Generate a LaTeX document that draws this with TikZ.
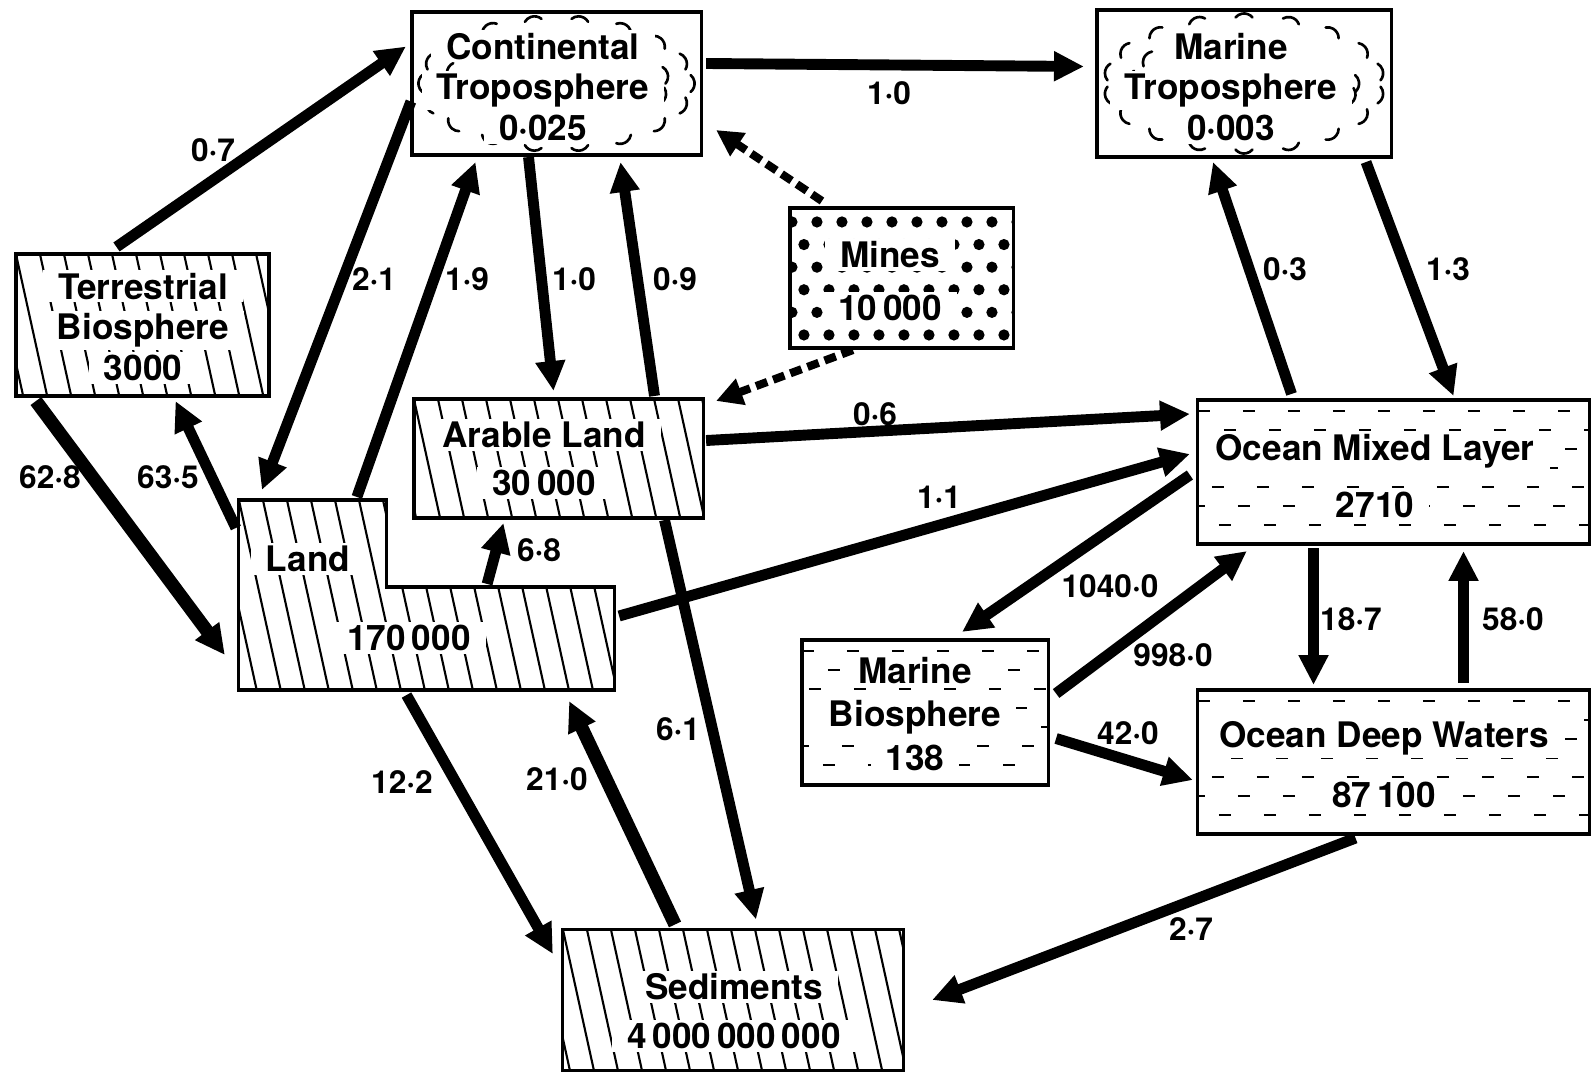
\documentclass[tikz,border=0pt]{standalone}
\usepackage{fontspec}
\setmainfont{TeX Gyre Heros}
\usepackage{tikz}
\usetikzlibrary{arrows.meta}

\tikzset{
  area/.style={outer sep=0pt,inner sep=0pt},
  box/.style={area,draw,line width=0.9pt},
  boxtext/.style={font=\bfseries\fontsize{10}{11.6}\selectfont,align=center,inner sep=0pt},
  rate/.style={font=\bfseries\fontsize{9}{10}\selectfont,inner sep=1pt},
  flow/.style={line width=3.1pt,-{Triangle[length=8.5pt,width=8pt]}},
  wide/.style={line width=3.8pt},
  mineflow/.style={line width=2.3pt,dash pattern=on 3.4pt off 1.8pt,-{Triangle[length=7.5pt,width=7.5pt]}},
  hatch/.style={line width=0.6pt},
  seadash/.style={line width=0.8pt,dash pattern=on 3.4pt off 9.4pt},
  cloud/.style={line width=0.75pt,line cap=round},
}

% white ground behind one line of text
\newcommand\wb[1]{{\setlength\fboxsep{0.8pt}\colorbox{white}{\hspace{3.5pt}#1\hspace{3.5pt}}}}
% slanted hatching, clipped by the caller
\newcommand\hatchlines[2]{%
  \foreach \i in {-2,...,#2}
    \draw[hatch] ([xshift=\i*0.24cm]#1.north west) -- ++(44,200);}
% rows of short dashes (water)
\newcommand\seadashes[2]{%
  \begin{scope}
    \clip (#1.south west) rectangle (#1.north east);
    \foreach \r in {0,...,#2}
      \draw[seadash] ([shift={({-mod(\r*19,45)},{11+19*\r})}]#1.north west) -- ++(440,0);
  \end{scope}}
% dots (ore)
\newcommand\minedots[1]{%
  \begin{scope}
    \clip (#1.south west) rectangle (#1.north east);
    \foreach \r in {0,...,5}
      \foreach \c in {0,...,9}
        \fill ([shift={({\c*25+mod(\r,2)*12+2},{14+\r*22.6})}]#1.north west) circle[radius=1.6pt];
  \end{scope}}
% ring of little arcs (air)
\newcommand\cloudarcs[4]{%
  \foreach \a in {#4}
    \draw[cloud] ([shift={(\a:#2 and #3)}]#1.center) ++(\a-50:0.11cm)
      arc[start angle=\a-50,end angle=\a+50,radius=0.11cm];}

\begin{document}
\begin{tikzpicture}[x=0.01cm,y=-0.01cm]
\useasboundingbox (0,0) rectangle (1592,1073);

% reservoirs
\node[box,minimum width=2.89cm,minimum height=1.43cm] (ct) at (556.5,83.5) {};
\node[box,minimum width=2.94cm,minimum height=1.47cm] (mt) at (1244,83.5) {};
\node[box,minimum width=2.23cm,minimum height=1.40cm] (mi) at (901.5,278) {};
\node[box,minimum width=2.53cm,minimum height=1.42cm] (tb) at (142.5,325) {};
\node[box,minimum width=2.89cm,minimum height=1.19cm] (al) at (558.5,458.5) {};
\node[area,minimum width=3.75cm,minimum height=1.90cm] (land) at (426.5,595) {};
\draw[box] (land.north west) -- ++(148,0) -- ++(0,87) -| (land.south east) -- (land.south west) -- cycle;
\node[box,minimum width=3.91cm,minimum height=1.44cm] (oml) at (1393.5,472) {};
\node[box,minimum width=2.46cm,minimum height=1.45cm] (mb) at (925,712.5) {};
\node[box,minimum width=3.91cm,minimum height=1.44cm] (odw) at (1393.5,762) {};
\node[box,minimum width=3.40cm,minimum height=1.41cm] (sed) at (733,1000) {};

% fills
\cloudarcs{ct}{1.27cm}{0.57cm}{0,20,...,340}
\cloudarcs{ct}{1.02cm}{0.40cm}{10,165,195,345}
\cloudarcs{mt}{1.30cm}{0.59cm}{10,30,...,350}
\cloudarcs{mt}{1.04cm}{0.42cm}{0,150,175,200,345}
\minedots{mi}
\begin{scope}
  \clip (tb.south west) rectangle (tb.north east);
  \hatchlines{tb}{12}
\end{scope}
\begin{scope}
  \clip (al.south west) rectangle (al.north east);
  \hatchlines{al}{13}
\end{scope}
\begin{scope}
  \clip (land.north west) -- ++(148,0) -- ++(0,87) -| (land.south east) -- (land.south west) -- cycle;
  \hatchlines{land}{16}
\end{scope}
\begin{scope}
  \clip (sed.south west) rectangle (sed.north east);
  \hatchlines{sed}{15}
\end{scope}
\seadashes{oml}{6}
\seadashes{mb}{6}
\seadashes{odw}{6}

% names and contents
\node[boxtext] (ctlab) at (543,87) {\wb{Continental}\\\wb{Troposphere}\\\wb{0·025}};
\node[boxtext] (mtlab) at (1231,87) {\wb{Marine}\\\wb{Troposphere}\\\wb{0·003}};
\node[boxtext] (milab) at (890,281) {\wb{Mines}\\[3.4pt]\wb{10\,000}};
\node[boxtext] (tblab) at (143,327) {\wb{Terrestrial}\\\wb{Biosphere}\\\wb{3000}};
\node[boxtext] (allab) at (544,459) {\wb{Arable Land}\\[2pt]\wb{30\,000}};
\node[boxtext] (landname) at (308,559) {\wb{Land}};
\node[boxtext] (landval) at (409,638) {\wb{170\,000}};
\node[boxtext] (omllab) at (1375,476) {\wb{Ocean Mixed Layer}\\[4.8pt]\wb{2710}};
\node[boxtext] (mblab) at (915,714) {\wb{Marine}\\[0.8pt]\wb{Biosphere}\\[0.8pt]\wb{138}};
\node[boxtext] (odwlab) at (1384,765) {\wb{Ocean Deep Waters}\\[5.4pt]\wb{87\,100}};
\node[boxtext] (sedlab) at (734,1011) {\wb{Sediments}\\[2.3pt]\wb{4\,000\,000\,000}};

% fluxes
\draw[flow] ([shift={(-26,-7)}]tb.north) -- ([shift={(-6,-37)}]ct.west);
\draw[flow] ([shift={(5,-20)}]ct.east) -- ([shift={(-13,-17)}]mt.west);
\draw[flow] ([shift={(-1,18)}]ct.west) -- ([shift={(23,-10)}]land.north west);
\draw[flow] ([shift={(118,-3)}]land.north west) -- ([shift={(-81,7)}]ct.south);
\draw[flow] ([shift={(-28,2)}]ct.south) -- ([shift={(-5,-8)}]al.north);
\draw[flow] ([shift={(96,-3)}]al.north) -- ([shift={(64,7)}]ct.south);
\draw[mineflow] ([shift={(32,-7)}]mi.north west) -- ([shift={(15,-25)}]ct.south east);
\draw[mineflow] ([shift={(63,2)}]mi.south west) -- ([shift={(13,2)}]al.north east);
\draw[flow] ([shift={(122,5)}]mt.south) -- ([shift={(60,-4)}]oml.north);
\draw[flow] ([shift={(-102,-6)}]oml.north) -- ([shift={(-31,5)}]mt.south);
\draw[flow] ([shift={(3,-18)}]al.east) -- ([shift={(-8,-58)}]oml.west);
\draw[flow] ([shift={(5,21)}]land.east) -- ([shift={(-8,-18)}]oml.west);
\draw[flow,wide] ([shift={(20,5)}]tb.south west) -- ([shift={(-14,60)}]land.west);
\draw[flow] ([shift={(-3,28)}]land.north west) -- ([shift={(33,5)}]tb.south);
\draw[flow] ([shift={(-127,84)}]land.north east) -- ([shift={(-55,5)}]al.south);
\draw[flow] ([shift={(-20,5)}]land.south) -- ([shift={(-10,-46)}]sed.west);
\draw[flow,wide] ([shift={(-58,-5)}]sed.north) -- ([shift={(-45,11)}]land.south east);
\draw[flow] ([shift={(106,2)}]al.south) -- ([shift={(23,-10)}]sed.north);
\draw[flow] ([shift={(-8,3)}]oml.west) -- ([shift={(37,-8)}]mb.north);
\draw[flow] ([shift={(8,-19)}]mb.east) -- ([shift={(49,7)}]oml.south west);
\draw[flow] ([shift={(-80,4)}]oml.south) -- ([shift={(-80,-5)}]odw.north);
\draw[flow] ([shift={(70,-7)}]odw.north) -- ([shift={(70,7)}]oml.south);
\draw[flow] ([shift={(8,26)}]mb.east) -- ([shift={(-5,18)}]odw.west);
\draw[flow] ([shift={(-38,4)}]odw.south) -- ([shift={(29,0)}]sed.east);

% rates
\node[rate] (r1) at (213,150) {0·7};
\node[rate] (r2) at (889,93) {1·0};
\node[rate] (r3) at (374,279) {2·1};
\node[rate] (r4) at (467,279) {1·9};
\node[rate] (r5) at (574,279) {1·0};
\node[rate] (r6) at (675,279) {0·9};
\node[rate] (r7) at (1285,269) {0·3};
\node[rate] (r8) at (1448,269) {1·3};
\node[rate] (r9) at (875,414) {0·6};
\node[rate] (r10) at (939,497) {1·1};
\node[rate] (r11) at (50,477) {62·8};
\node[rate] (r12) at (168,477) {63·5};
\node[rate] (r13) at (539,550) {6·8};
\node[rate] (r14) at (402,782) {12·2};
\node[rate] (r15) at (557,779) {21·0};
\node[rate] (r16) at (678,729) {6·1};
\node[rate] (r17) at (1110,586) {1040·0};
\node[rate] (r18) at (1173,655) {998·0};
\node[rate] (r19) at (1351,619) {18·7};
\node[rate] (r20) at (1513,619) {58·0};
\node[rate] (r21) at (1128,733) {42·0};
\node[rate] (r22) at (1191,929) {2·7};
\end{tikzpicture}
\end{document}
